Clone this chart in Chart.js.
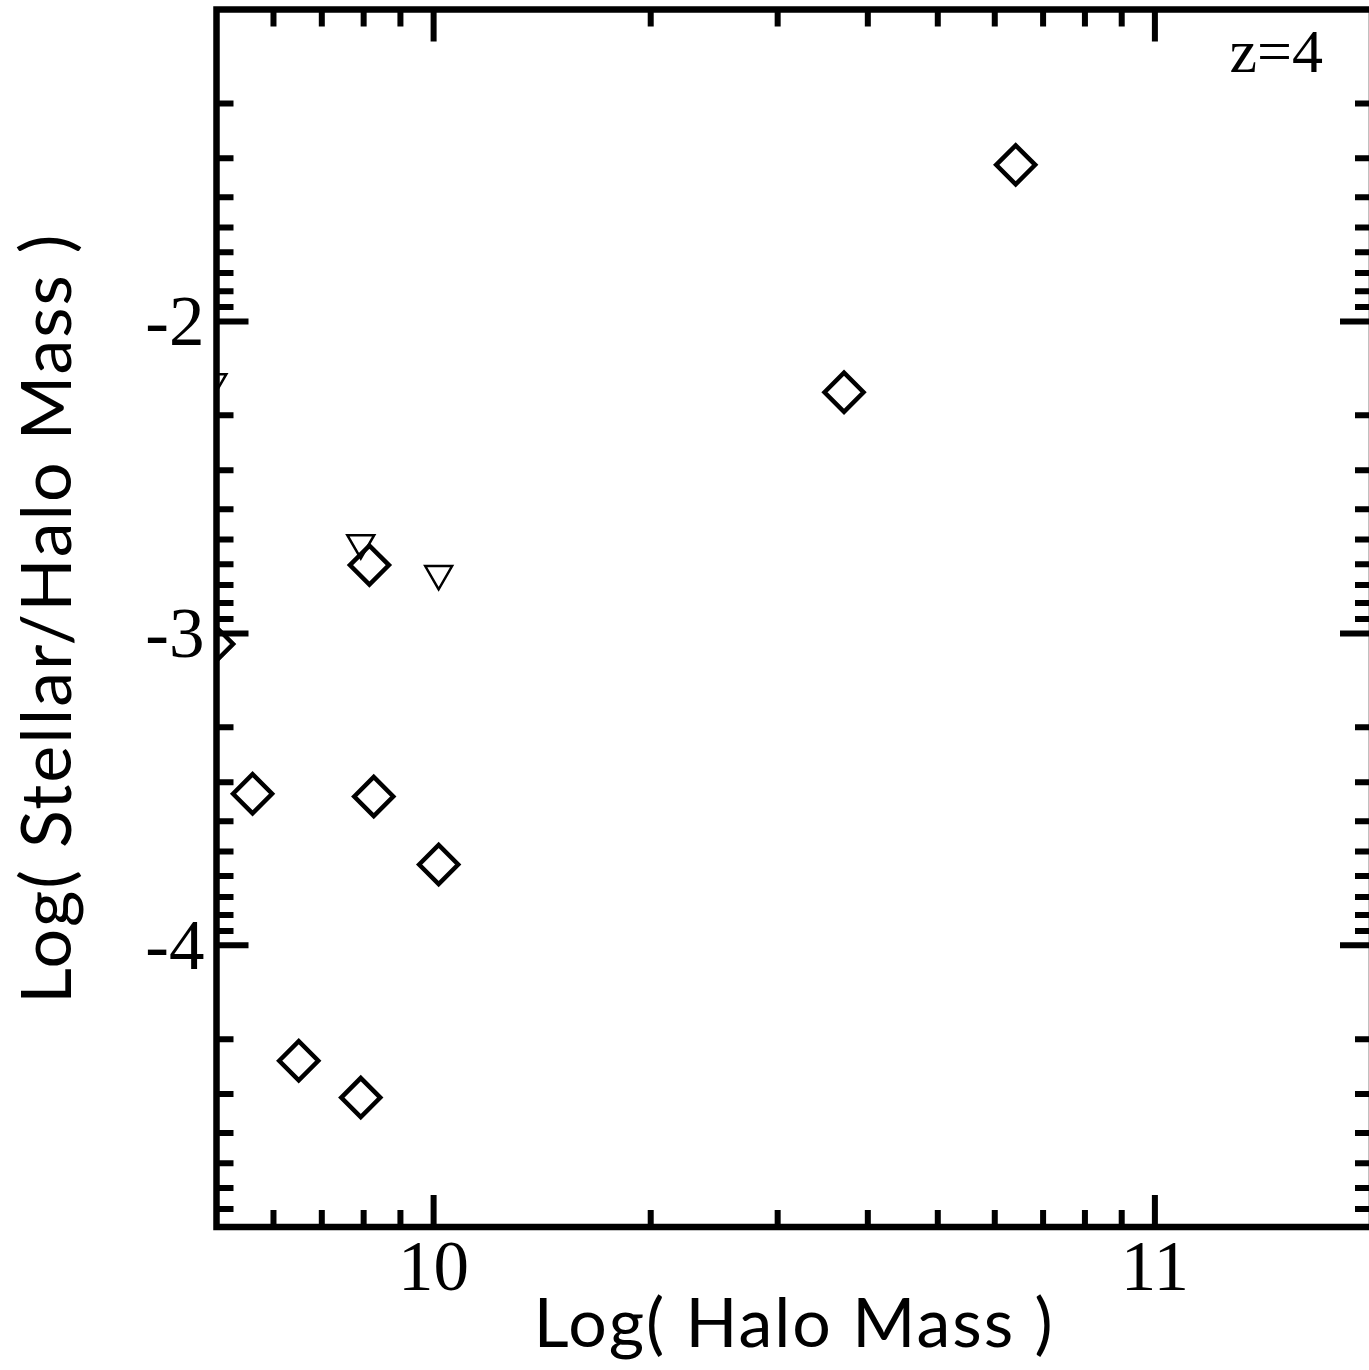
<!DOCTYPE html>
<html>
<head>
<meta charset="utf-8">
<title>Stellar / Halo mass, z=4</title>
<script src="https://cdn.jsdelivr.net/npm/chart.js@4.4.1/dist/chart.umd.min.js"></script>
<style>
    html, body { margin: 0; padding: 0; background: #fff; overflow: hidden; }
    #wrap { width: 1375px; height: 1370px; position: relative; }
</style>
</head>
<body>
<div id="wrap"><canvas id="smhm-chart"></canvas></div>
<script>
// axis ranges and ticks (log values)
var xRange = [9.699, 11.301];
var yRange = [-4.903, -1];
var xMajorTicks = [10, 11];
var xTickLabels = ['10', '11'];
var xMinorTicks = [9.778, 9.845, 9.903, 9.954,
    10.301, 10.477, 10.602, 10.699, 10.778, 10.845, 10.903, 10.954];
var yMajorTicks = [-4, -3, -2];
var yTickLabels = ['-4', '-3', '-2'];
var yMinorTicks = [-1.301, -1.477, -1.602, -1.699, -1.778, -1.845, -1.903, -1.954,
    -2.301, -2.477, -2.602, -2.699, -2.778, -2.845, -2.903, -2.954,
    -3.301, -3.477, -3.602, -3.699, -3.778, -3.845, -3.903, -3.954,
    -4.301, -4.477, -4.602, -4.699, -4.778, -4.845];

// detections (diamonds)
var detHalo  = [10.807, 10.569, 9.911, 9.749, 9.917, 10.007, 9.813, 9.899, 9.695];
var detRatio = [-1.498, -2.227, -2.781, -3.514, -3.523, -3.741, -4.370, -4.488, -3.034];

// upper limits (down triangles)
var limHalo  = [9.899, 10.007, 9.694];
var limRatio = [-2.710, -2.809, -2.194];

var redshiftLabel = 'z=4';

function toPoints(xs, ys) {
    var pts = [];
    for (var i = 0; i < xs.length; i++) {
        pts.push({ x: xs[i], y: ys[i] });
    }
    return pts;
}

// IDL style frame: box on all four sides, ticks pointing inward
var idlFrame = {
    id: 'idlFrame',
    beforeDraw: function(chart) {
        // axis titles are drawn in the first layer, spread them a little
        chart.ctx.letterSpacing = '2px';
    },
    beforeDatasetsDraw: function(chart) {
        chart.ctx.letterSpacing = '0px';
    },
    afterDatasetsDraw: function(chart) {
        var ctx = chart.ctx;
        var a = chart.chartArea;
        var xs = chart.scales.x;
        var ys = chart.scales.y;
        var majorLen = 32, minorLen = 17;
        ctx.save();
        ctx.strokeStyle = '#000';
        ctx.lineCap = 'butt';
        ctx.lineWidth = 6;

        function xTick(v, len) {
            var px = xs.getPixelForValue(v);
            ctx.beginPath();
            ctx.moveTo(px, a.bottom);
            ctx.lineTo(px, a.bottom - len);
            ctx.moveTo(px, a.top);
            ctx.lineTo(px, a.top + len);
            ctx.stroke();
        }
        function yTick(v, len) {
            var py = ys.getPixelForValue(v);
            ctx.beginPath();
            ctx.moveTo(a.left, py);
            ctx.lineTo(a.left + len, py);
            ctx.moveTo(a.right, py);
            ctx.lineTo(a.right - len, py);
            ctx.stroke();
        }
        var i;
        for (i = 0; i < xMinorTicks.length; i++) xTick(xMinorTicks[i], minorLen);
        for (i = 0; i < xMajorTicks.length; i++) xTick(xMajorTicks[i], majorLen);
        for (i = 0; i < yMinorTicks.length; i++) yTick(yMinorTicks[i], minorLen);
        for (i = 0; i < yMajorTicks.length; i++) yTick(yMajorTicks[i], majorLen);

        ctx.lineWidth = 6.5;
        ctx.strokeRect(a.left, a.top, a.right - a.left, a.bottom - a.top);

        ctx.fillStyle = '#000';
        ctx.font = '62px "Liberation Serif"';
        ctx.textAlign = 'right';
        ctx.textBaseline = 'alphabetic';
        ctx.fillText(redshiftLabel, a.right - 49, a.top + 62);
        ctx.restore();
    }
};

var tickFont = { family: '"Liberation Serif", "Times New Roman", serif', size: 71, lineHeight: 1.2 };
var xTitleFont = { family: 'Lato, "Open Sans", sans-serif', size: 68, lineHeight: 1 };
var yTitleFont = { family: 'Lato, "Open Sans", sans-serif', size: 70, lineHeight: 1 };

var ctx = document.getElementById('smhm-chart').getContext('2d');
var chart = new Chart(ctx, {
    type: 'scatter',
    data: {
        datasets: [{
            label: 'detections',
            data: toPoints(detHalo, detRatio),
            pointStyle: 'rectRot',
            pointRadius: 19.5,
            pointBorderWidth: 4.5,
            pointBorderColor: '#000',
            pointBackgroundColor: 'rgba(0,0,0,0)',
            clip: 0
        }, {
            label: 'upper limits',
            data: toPoints(limHalo, limRatio),
            pointStyle: 'triangle',
            pointRotation: 180,
            pointRadius: 15.5,
            pointBorderWidth: 2.5,
            pointBorderColor: '#000',
            pointBackgroundColor: 'rgba(0,0,0,0)',
            clip: 0
        }]
    },
    options: {
        responsive: true,
        maintainAspectRatio: false,
        animation: false,
        events: [],
        layout: { autoPadding: false, padding: { left: 0, right: 3, top: 9.5, bottom: 0 } },
        plugins: {
            legend: { display: false },
            tooltip: { enabled: false }
        },
        scales: {
            x: {
                type: 'linear',
                position: 'bottom',
                min: xRange[0],
                max: xRange[1],
                grid: { display: false, drawTicks: false },
                border: { display: false },
                afterBuildTicks: function(s) {
                    s.ticks = xMajorTicks.map(function(v) { return { value: v }; });
                },
                afterFit: function(s) {
                    s.height = 143;
                    s.paddingLeft = 0;
                    s.paddingRight = 0;
                },
                ticks: {
                    z: 1,
                    color: '#000',
                    font: tickFont,
                    padding: 2,
                    maxRotation: 0,
                    autoSkip: false,
                    callback: function(v, i) { return xTickLabels[i]; }
                },
                title: {
                    display: true,
                    text: 'Log( Halo Mass )',
                    color: '#000',
                    font: xTitleFont,
                    padding: { top: 0, bottom: 11 }
                }
            },
            y: {
                type: 'linear',
                position: 'left',
                min: yRange[0],
                max: yRange[1],
                grid: { display: false, drawTicks: false },
                border: { display: false },
                afterBuildTicks: function(s) {
                    s.ticks = yMajorTicks.map(function(v) { return { value: v }; });
                },
                afterFit: function(s) {
                    s.width = 216.5;
                    s.paddingTop = 0;
                    s.paddingBottom = 0;
                },
                ticks: {
                    z: 1,
                    color: '#000',
                    font: tickFont,
                    padding: 12,
                    labelOffset: 5,
                    autoSkip: false,
                    callback: function(v, i) { return yTickLabels[i]; }
                },
                title: {
                    display: true,
                    text: 'Log( Stellar/Halo Mass )',
                    color: '#000',
                    font: yTitleFont,
                    padding: { top: 13, bottom: 0 }
                }
            }
        }
    },
    plugins: [idlFrame]
});
</script>
</body>
</html>
